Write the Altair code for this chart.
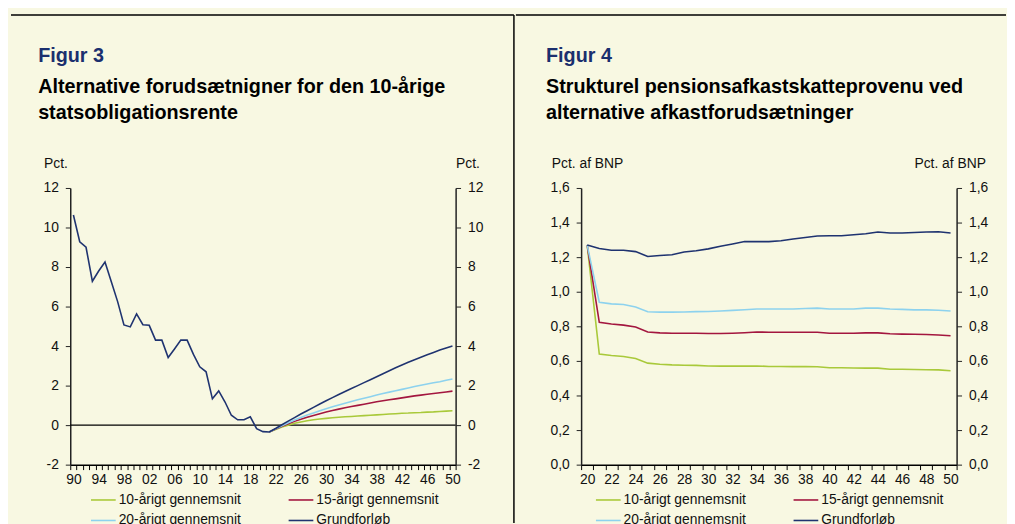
import altair as alt
import pandas as pd

FONT = "Liberation Sans"
BG = "#F8F8E2"
NAVY = "#1B2F6E"
AXIS_COL = "#222222"

series = ["10-årigt gennemsnit", "15-årigt gennemsnit", "20-årigt gennemsnit", "Grundforløb"]
colors = ["#A9C93A", "#A3163F", "#8DD2EE", "#1F3370"]

# ---------------- Figur 3 ----------------
f3_label = "Figur 3"
f3_title = ["Alternative forudsætnigner for den 10-årige", "statsobligationsrente"]
f3_unit = "Pct."
f3_yticks = [-2, 0, 2, 4, 6, 8, 10, 12]

hist_years = list(range(1990, 2022))
grund_hist = [10.63, 9.28, 9.0, 7.28, 7.8, 8.25, 7.25, 6.25, 5.07, 4.97, 5.63, 5.08,
              5.05, 4.3, 4.3, 3.42, 3.85, 4.3, 4.3, 3.58, 2.95, 2.7, 1.33, 1.73,
              1.17, 0.5, 0.27, 0.27, 0.42, -0.18, -0.33, -0.35]

proj_years = list(range(2021, 2051))
proj_10 = [-0.35, -0.22, -0.1, 0.0, 0.09, 0.16, 0.22, 0.27, 0.31, 0.34, 0.37, 0.4, 0.42,
           0.44, 0.46, 0.48, 0.5, 0.52, 0.54, 0.56, 0.58, 0.6, 0.61, 0.63, 0.64, 0.66,
           0.67, 0.69, 0.71, 0.73]
proj_15 = [-0.35, -0.2, -0.06, 0.07, 0.19, 0.3, 0.4, 0.49, 0.58, 0.66, 0.74, 0.81, 0.88,
           0.94, 1.0, 1.06, 1.12, 1.18, 1.23, 1.28, 1.33, 1.38, 1.43, 1.48, 1.52, 1.56,
           1.6, 1.64, 1.68, 1.72]
proj_20 = [-0.35, -0.19, -0.03, 0.12, 0.26, 0.39, 0.51, 0.62, 0.73, 0.83, 0.93, 1.02, 1.11,
           1.2, 1.28, 1.36, 1.44, 1.52, 1.6, 1.67, 1.74, 1.81, 1.88, 1.95, 2.02, 2.08,
           2.14, 2.2, 2.27, 2.33]
proj_grund = [-0.35, -0.17, 0.02, 0.2, 0.38, 0.56, 0.73, 0.9, 1.07, 1.23, 1.39, 1.55, 1.7,
              1.85, 2.0, 2.15, 2.3, 2.45, 2.6, 2.75, 2.9, 3.04, 3.18, 3.31, 3.44, 3.56,
              3.68, 3.8, 3.9, 4.0]

# ---------------- Figur 4 ----------------
f4_label = "Figur 4"
f4_title = ["Strukturel pensionsafkastskatteprovenu ved", "alternative afkastforudsætninger"]
f4_unit = "Pct. af BNP"
f4_yticks = [0.0, 0.2, 0.4, 0.6, 0.8, 1.0, 1.2, 1.4, 1.6]

f4_years = list(range(2020, 2051))
f4_10 = [1.27, 0.64, 0.631, 0.625, 0.614, 0.587, 0.581, 0.577, 0.575, 0.574, 0.571, 0.57,
         0.57, 0.57, 0.571, 0.568, 0.568, 0.567, 0.567, 0.566, 0.56, 0.56, 0.559, 0.558,
         0.558, 0.552, 0.552, 0.55, 0.549, 0.548, 0.543]
f4_15 = [1.27, 0.823, 0.813, 0.807, 0.796, 0.767, 0.762, 0.76, 0.76, 0.76, 0.758, 0.758,
         0.76, 0.763, 0.767, 0.766, 0.766, 0.766, 0.766, 0.766, 0.76, 0.76, 0.76, 0.762,
         0.762, 0.757, 0.755, 0.754, 0.753, 0.75, 0.745]
f4_20 = [1.27, 0.939, 0.93, 0.926, 0.912, 0.884, 0.882, 0.882, 0.883, 0.885, 0.886, 0.889,
         0.892, 0.896, 0.9, 0.9, 0.9, 0.9, 0.903, 0.905, 0.9, 0.9, 0.9, 0.905, 0.905, 0.9,
         0.898, 0.895, 0.895, 0.893, 0.889]
f4_grund = [1.27, 1.25, 1.24, 1.24, 1.232, 1.204, 1.21, 1.214, 1.23, 1.237, 1.248, 1.263,
            1.276, 1.29, 1.29, 1.29, 1.295, 1.305, 1.314, 1.322, 1.324, 1.324, 1.33, 1.335,
            1.345, 1.34, 1.34, 1.343, 1.345, 1.347, 1.34]


def long_df(pairs):
    rows = []
    for name, yrs, vals in pairs:
        for y, v in zip(yrs, vals):
            rows.append({"year": y, "value": v, "serie": name})
    return pd.DataFrame(rows)


df3 = long_df([
    (series[0], proj_years, proj_10),
    (series[1], proj_years, proj_15),
    (series[2], proj_years, proj_20),
    (series[3], hist_years + proj_years[1:], grund_hist + proj_grund[1:]),
])
df4 = long_df([
    (series[0], f4_years, f4_10),
    (series[1], f4_years, f4_15),
    (series[2], f4_years, f4_20),
    (series[3], f4_years, f4_grund),
])


def text_layer(txt, x, y, size, weight, color, align="left"):
    return alt.Chart(pd.DataFrame({"t": [txt]})).mark_text(
        align=align, baseline="alphabetic", font=FONT, fontSize=size,
        fontWeight=weight, color=color
    ).encode(text="t:N", x=alt.value(x), y=alt.value(y))


def panel(df, first_year, last_year, label_every, yticks, ylabel_expr, unit,
          unit_lx, unit_rx, fig_label, fig_title, title_x, title_y0,
          width, height, frame_left, frame_right, frame_top, frame_bottom,
          legend_x, legend_y, zero_line, vertical_divider):
    xmin, xmax = first_year - 0.5, last_year + 0.5
    half_bin = width / (last_year - first_year + 1) / 2.0
    tick_vals = [xmin + i for i in range(last_year - first_year + 2)]
    xscale = alt.Scale(domain=[xmin, xmax], nice=False, zero=False)
    yscale = alt.Scale(domain=[yticks[0], yticks[-1]], nice=False, zero=False)

    xaxis = alt.Axis(
        values=tick_vals, tickSize=5, labelOffset=half_bin,
        labelExpr=(f"(datum.value + 0.5 - {first_year}) % {label_every} === 0 ? "
                   f"slice(toString(datum.value + 0.5), -2) : ''"),
        labelOverlap=False, labelFlush=False, title=None, grid=False,
        domainColor="#000000", tickColor="#000000", labelPadding=3,
    )
    common_y = dict(values=yticks, tickSize=5, labelPadding=7, grid=False,
                    labelExpr=ylabel_expr, title=unit, titleAngle=0,
                    titleAlign="center", titleBaseline="middle", titleY=-25,
                    titleFontWeight="normal", titleFont=FONT, titleFontSize=14,
                    titleColor="#111111", labelFlush=False, labelOverlap=False)
    yaxis_l = alt.Axis(orient="left", titleX=unit_lx, **common_y)
    yaxis_r = alt.Axis(orient="right", titleX=unit_rx, **common_y)

    lines = alt.Chart(df).mark_line(strokeWidth=1.6).encode(
        x=alt.X("year:Q", scale=xscale, axis=xaxis),
        y=alt.Y("value:Q", scale=yscale, axis=yaxis_l),
        color=alt.Color(
            "serie:N",
            scale=alt.Scale(domain=series, range=colors),
            legend=alt.Legend(
                title=None, orient="none", legendX=legend_x, legendY=legend_y,
                direction="horizontal", columns=2, symbolType="stroke",
                symbolSize=625, symbolStrokeWidth=1.6, labelFont=FONT,
                labelFontSize=14, labelColor="#111111", columnPadding=44,
                rowPadding=-11, labelOffset=2, labelLimit=300,
            ),
        ),
    )
    zero = alt.Chart(pd.DataFrame({"v": [0]})).mark_rule(
        color="#000000", strokeWidth=1.2, opacity=1 if zero_line else 0
    ).encode(y=alt.Y("v:Q", scale=yscale, axis=yaxis_r))

    top_rule = alt.Chart(pd.DataFrame({"a": [0]})).mark_rule(
        color="#000000", strokeWidth=1.5
    ).encode(x=alt.value(frame_left), x2=alt.value(frame_right), y=alt.value(frame_top))

    layers = [top_rule]
    if vertical_divider:
        vdiv = alt.Chart(pd.DataFrame({"a": [0]})).mark_rule(
            color="#000000", strokeWidth=1.5
        ).encode(x=alt.value(frame_right), y=alt.value(frame_top), y2=alt.value(frame_bottom))
        layers.append(vdiv)

    layers.append(text_layer(fig_label, title_x, title_y0, 20, "bold", NAVY))
    for i, line in enumerate(fig_title):
        layers.append(text_layer(line, title_x, title_y0 + 31 + 26 * i, 20, "bold", "#000000"))

    chart = alt.layer(zero, lines, *layers).resolve_scale(y="independent").properties(
        width=width, height=height
    )
    return chart


left = panel(
    df3, 1990, 2050, 4, f3_yticks, "toString(datum.value)", f3_unit,
    -15, 12, f3_label, f3_title, -32.5, -127,
    390, 280, -60, 449, -175, 339, 20, 302, True, True,
)
right = panel(
    df4, 2020, 2050, 2, f4_yticks, "replace(format(datum.value, '.1f'), '.', ',')",
    f4_unit, 6, -7, f4_label, f4_title, -35.5, -127,
    380, 280, -66, 430, -175, 339, 14, 302, False, False,
)

chart = alt.hconcat(left, right, spacing=0).resolve_scale(color="independent").configure(
    background=BG,
    padding={"left": 2, "top": 3, "right": 0, "bottom": 0},
    font=FONT,
).configure_view(stroke=None).configure_axis(
    labelFont=FONT, labelFontSize=14, labelColor="#111111",
    domainColor=AXIS_COL, tickColor=AXIS_COL, domainWidth=1.5, tickWidth=1,
)

chart.save("out.html", embed_options={"renderer": "svg", "actions": False})
